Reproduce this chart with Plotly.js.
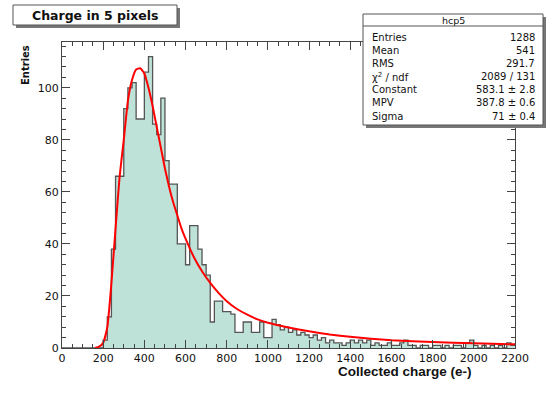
<!DOCTYPE html>
<html><head><meta charset="utf-8">
<script src="https://cdn.plot.ly/plotly-3.0.1.min.js"></script>
<style>html,body{margin:0;padding:0;background:#fff}#chart{width:547px;height:394px}</style>
</head><body><div id="chart"></div>
<script>
// ---------------- data ----------------
const binStart = 0;
const binWidth = 20;
const counts = [
  0,0,0,0,0,0,0,0,0,0,
  3,12,38,66,66,92,100,102,88,88,
  106,112,86,82,96,72,63,63,40,40,
  32,47,47,38,32,28,10,18,18,14,
  14,13,6,6,10,10,6,6,10,4,
  4,11,9,7,8,6,7,5,6,5,
  4,5,3,4,2,3,2,2,1,2,
  3,2,3,2,3,1,2,1,1,2,
  1,1,2,3,1,1,0,1,1,0,
  1,1,0,1,0,1,1,0,2,3,
  1,0,1,0,1,0,1,0,2,1
];
const fitX = [160,180,200,220,240,260,280,300,320,340,360,380,400,420,440,460,480,500,520,540,560,580,600,640,680,720,760,800,850,900,950,1000,1100,1200,1300,1400,1500,1600,1800,2000,2200];
const fitY = [0,0.5,2,8,25,46,66,80,95,103,107,107.5,105.5,100,93,85,77,69,62,56,51,46,42,35,29.5,25,21.2,18,15,12.8,11,9.7,7.9,6.4,5.2,4.3,3.6,3,2.3,1.8,1.4];
const xTickVals = [0,200,400,600,800,1000,1200,1400,1600,1800,2000,2200];
const yTickVals = [0,20,40,60,80,100];
const histName = 'hcp5';
const statsNames = ['Entries','Mean','RMS','\u03c7<sup>2</sup> / ndf','Constant','MPV','Sigma'];
const statsValues = ['1288','541','291.7','2089 / 131','583.1 \u00b1 2.8','387.8 \u00b1 0.6','71 \u00b1 0.4'];
const titleText = 'Charge in 5 pixels';
const xTitle = 'Collected charge (e-)';
const yTitle = 'Entries';

// ---------------- geometry helpers (layout only) ----------------
const W = 547, H = 394;
const ML = 62, MR = 32, MT = 42, MB = 46;
const PW = W - ML - MR, PH = H - MT - MB;
const px = x => (x - ML) / PW;
const py = y => (H - MB - y) / PH;

// histogram step outline from bins
const edges = counts.map((c, i) => binStart + i * binWidth);
edges.push(binStart + counts.length * binWidth);
const stepY = counts.concat([counts[counts.length - 1]]);

const traces = [
  {x: edges, y: stepY, type: 'scatter', mode: 'lines',
   line: {shape: 'hv', color: '#555', width: 1.3},
   fill: 'tozeroy', fillcolor: '#bfe2d8', hoverinfo: 'skip'},
  {x: fitX, y: fitY, type: 'scatter', mode: 'lines',
   line: {color: '#ff0000', width: 2, shape: 'spline', smoothing: 0.5}, hoverinfo: 'skip'}
];

const axisCommon = {
  ticks: 'inside', ticklen: 8, tickwidth: 1, tickcolor: '#444',
  showline: true, linecolor: '#444', linewidth: 1, mirror: 'ticks',
  showgrid: false, zeroline: false, fixedrange: true,
  tickfont: {family: 'DejaVu Sans', size: 11, color: '#111'}
};

const shapes = [
  {type: 'rect', xref: 'paper', yref: 'paper', x0: px(16), x1: px(180), y0: py(8), y1: py(28),
   fillcolor: '#777', line: {width: 0}, layer: 'above'},
  {type: 'rect', xref: 'paper', yref: 'paper', x0: px(13), x1: px(177), y0: py(5), y1: py(25),
   fillcolor: '#fff', line: {color: '#555', width: 1}, layer: 'above'},
  {type: 'rect', xref: 'paper', yref: 'paper', x0: px(366), x1: px(546), y0: py(17), y1: py(128),
   fillcolor: '#777', line: {width: 0}, layer: 'above'},
  {type: 'rect', xref: 'paper', yref: 'paper', x0: px(363), x1: px(543), y0: py(14), y1: py(125),
   fillcolor: '#fff', line: {color: '#555', width: 1}, layer: 'above'},
  {type: 'line', xref: 'paper', yref: 'paper', x0: px(363), x1: px(543), y0: py(26), y1: py(26),
   line: {color: '#555', width: 1}, layer: 'above'}
];

const annotations = [
  {text: titleText, xref: 'paper', yref: 'paper', x: px(95), y: py(15.5), xanchor: 'center', yanchor: 'middle',
   showarrow: false, font: {family: 'DejaVu Sans', size: 12.5, color: '#111', weight: 'bold'}},
  {text: histName, xref: 'paper', yref: 'paper', x: px(453), y: py(20), xanchor: 'center', yanchor: 'middle',
   showarrow: false, font: {family: 'DejaVu Sans', size: 9.5, color: '#111'}},
  {text: xTitle, xref: 'paper', yref: 'paper', x: px(405), y: py(371), xanchor: 'center', yanchor: 'middle',
   showarrow: false, font: {family: 'Liberation Sans', size: 13.5, color: '#111', weight: 'bold'}},
  {text: yTitle, xref: 'paper', yref: 'paper', x: px(26), y: py(65), xanchor: 'center', yanchor: 'middle',
   textangle: -90, showarrow: false, font: {family: 'DejaVu Sans', size: 10, color: '#111', weight: 'bold'}}
];
statsNames.forEach((n, i) => {
  const yy = 37 + i * 13.2;
  annotations.push({text: n, xref: 'paper', yref: 'paper', x: px(370), y: py(yy), xanchor: 'left', yanchor: 'middle',
    showarrow: false, font: {family: 'DejaVu Sans', size: 10, color: '#111'}});
  annotations.push({text: statsValues[i], xref: 'paper', yref: 'paper', x: px(537), y: py(yy), xanchor: 'right', yanchor: 'middle',
    showarrow: false, font: {family: 'DejaVu Sans', size: 10, color: '#111'}});
});

const layout = {
  width: W, height: H,
  margin: {l: ML, r: MR, t: MT, b: MB, pad: 0},
  paper_bgcolor: '#fff', plot_bgcolor: '#fff',
  showlegend: false,
  xaxis: Object.assign({}, axisCommon, {range: [0, 2200], tickvals: xTickVals,
    minor: {dtick: 50, tick0: 0, ticks: 'inside', ticklen: 4, tickcolor: '#444', showgrid: false}}),
  yaxis: Object.assign({}, axisCommon, {range: [0, 117.6], tickvals: yTickVals,
    minor: {dtick: 4, tick0: 0, ticks: 'inside', ticklen: 4, tickcolor: '#444', showgrid: false}}),
  shapes: shapes,
  annotations: annotations
};

Plotly.newPlot('chart', traces, layout, {displayModeBar: false, staticPlot: true});
</script>
</body></html>
